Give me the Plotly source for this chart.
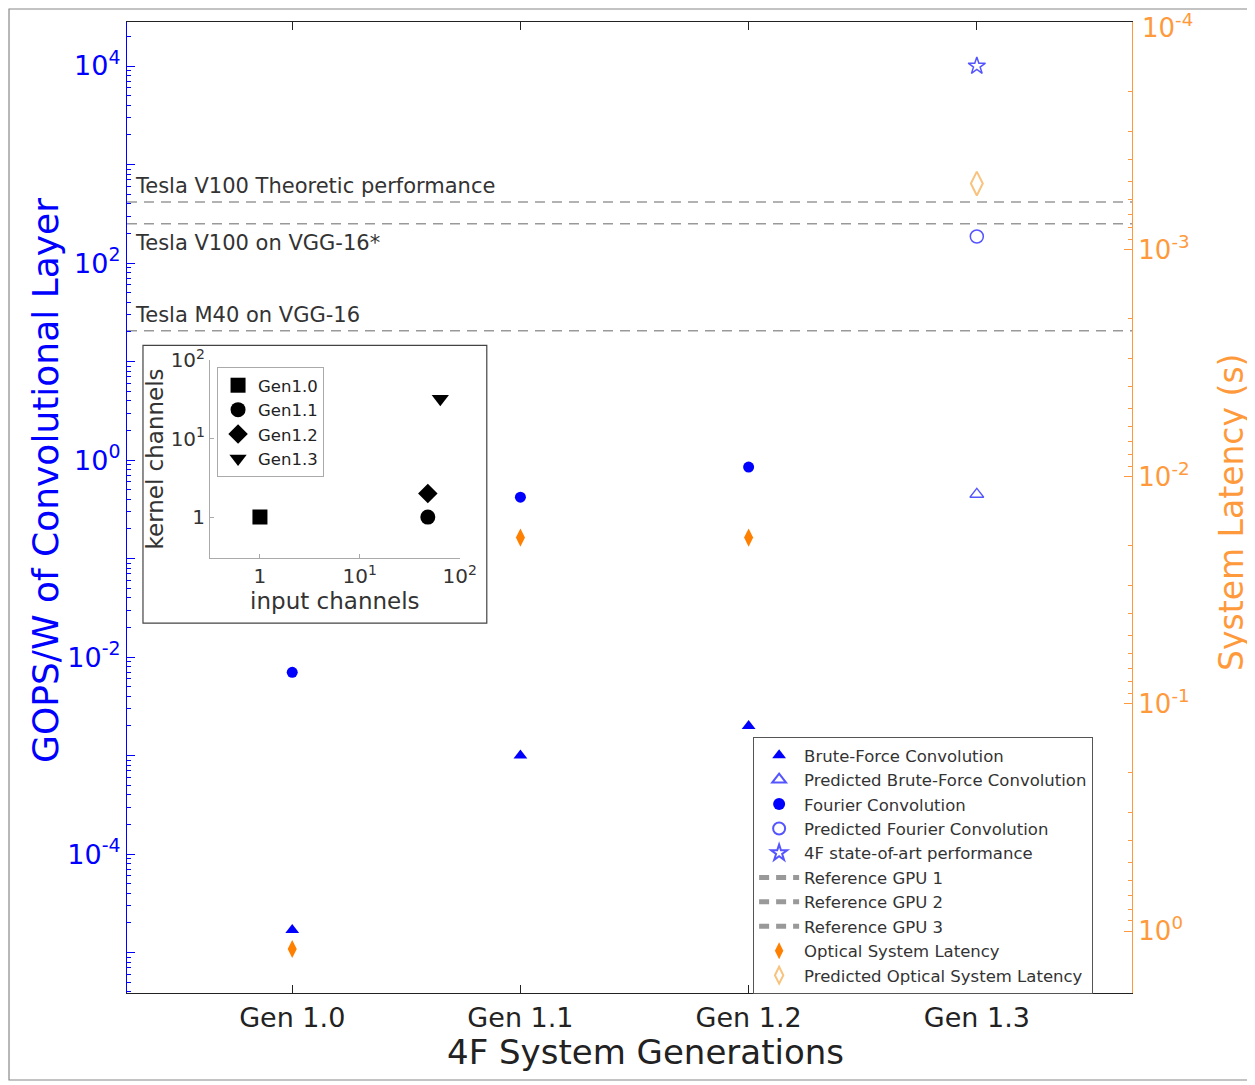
import plotly.graph_objects as go
import numpy as np

# ---------------- data ----------------
generations = ["Gen 1.0", "Gen 1.1", "Gen 1.2", "Gen 1.3"]
gen_pos = [1, 2, 3, 4]

brute_force_x = [1, 2, 3]
brute_force = [1.7e-5, 1.0e-3, 2.0e-3]
pred_brute_force_x = [4]
pred_brute_force = [0.45]

fourier_x = [1, 2, 3]
fourier = [7.0e-3, 0.42, 0.85]
pred_fourier_x = [4]
pred_fourier = [186]

state_of_art_x = [4]
state_of_art = [1.0e4]

gpu_names = ["Reference GPU 1", "Reference GPU 2", "Reference GPU 3"]
gpu_values = [417, 250, 20.5]
gpu_labels = ["Tesla V100 Theoretic performance", "Tesla V100 on VGG-16*", "Tesla M40 on VGG-16"]

latency_x = [1, 2, 3]
latency = [1.2, 0.0185, 0.0185]
pred_latency_x = [4]
pred_latency = [5.1e-4]

# inset data
inset_names = ["Gen1.0", "Gen1.1", "Gen1.2", "Gen1.3"]
input_channels = [1, 48, 48, 64]
kernel_channels = [1, 1, 2, 32]
inset_symbols = ["square", "circle", "diamond", "triangle-down"]

# ---------------- style ----------------
BLUE = "#0000FF"
LBLUE = "#5555FF"
ORANGE = "#FF8000"
ORANGE_AX = "#FF9A3C"
LORANGE = "#F8C37E"
GRAY = "#999999"
FONT = "DejaVu Sans, Verdana, sans-serif"

X_RANGE = [0.276, 4.68]
LEFT_RANGE = [-5.41, 4.447]
RIGHT_RANGE = [0.273, -4.004]

fig = go.Figure()

fig.add_trace(go.Scatter(x=brute_force_x, y=brute_force, mode="markers", name="Brute-Force Convolution",
                         marker=dict(symbol="triangle-up", color=BLUE, size=12), legend="legend"))
fig.add_trace(go.Scatter(x=pred_brute_force_x, y=pred_brute_force, mode="markers", name="Predicted Brute-Force Convolution",
                         marker=dict(symbol="triangle-up-open", color=LBLUE, size=12, line=dict(width=1.3)), legend="legend"))
fig.add_trace(go.Scatter(x=fourier_x, y=fourier, mode="markers", name="Fourier Convolution",
                         marker=dict(symbol="circle", color=BLUE, size=11), legend="legend"))
fig.add_trace(go.Scatter(x=pred_fourier_x, y=pred_fourier, mode="markers", name="Predicted Fourier Convolution",
                         marker=dict(symbol="circle-open", color=LBLUE, size=13, line=dict(width=1.5)), legend="legend"))
fig.add_trace(go.Scatter(x=state_of_art_x, y=state_of_art, mode="markers", name="4F state-of-art performance",
                         marker=dict(symbol="star-open", color=LBLUE, size=13, line=dict(width=1.5)), legend="legend"))
for nm, v in zip(gpu_names, gpu_values):
    fig.add_trace(go.Scatter(x=X_RANGE, y=[v, v], mode="lines", name=nm,
                             line=dict(color=GRAY, width=1.5, dash="10px,7px"), legend="legend"))
fig.add_trace(go.Scatter(x=latency_x, y=latency, mode="markers", name="Optical System Latency", yaxis="y2",
                         marker=dict(symbol="diamond-tall", color=ORANGE, size=13), legend="legend"))
fig.add_trace(go.Scatter(x=pred_latency_x, y=pred_latency, mode="markers", name="Predicted Optical System Latency", yaxis="y2",
                         marker=dict(symbol="diamond-tall-open", color=LORANGE, size=17, line=dict(width=2)), legend="legend"))

# inset traces
for nm, xi, yi, sym in zip(inset_names, input_channels, kernel_channels, inset_symbols):
    fig.add_trace(go.Scatter(x=[xi], y=[yi], mode="markers", name=nm, xaxis="x2", yaxis="y3",
                             marker=dict(symbol=sym, color="black", size=15), legend="legend2"))

# GPU label annotations
anchors = ["bottom", "top", "bottom"]
shifts = [2, -5, 2]
for lab, v, an, sh in zip(gpu_labels, gpu_values, anchors, shifts):
    fig.add_annotation(x=0.006, xref="x domain", y=np.log10(v), yref="y", text=lab, showarrow=False,
                       xanchor="left", yanchor=an, yshift=sh, font=dict(family=FONT, size=21, color="#333333"))

# axis titles as annotations (placed like the reference)
fig.add_annotation(x=-0.0816, y=0.5283, xref="paper", yref="paper", text="GOPS/W of Convolutional Layer",
                   textangle=-90, showarrow=False, xanchor="center", yanchor="middle",
                   font=dict(family=FONT, size=36, color=BLUE))
fig.add_annotation(x=1.0995, y=0.4954, xref="paper", yref="paper", text="System Latency (s)",
                   textangle=-90, showarrow=False, xanchor="center", yanchor="middle",
                   font=dict(family=FONT, size=33, color=ORANGE_AX))
fig.add_annotation(x=0.5164, y=-0.0607, xref="paper", yref="paper", text="4F System Generations",
                   showarrow=False, xanchor="center", yanchor="middle",
                   font=dict(family=FONT, size=34, color="#222222"))

left_ticks = [10.0 ** k for k in range(-5, 5)]
left_text = [("10<sup>%d</sup>" % k if k % 2 == 0 else "") for k in range(-5, 5)]
right_ticks = [10.0 ** k for k in range(-4, 1)]
right_text = [("10<sup>%d</sup>" % k if k > -4 else "") for k in range(-4, 1)]

# top right-axis label (kept inside the page, like the reference)
fig.add_annotation(x=1.0, xref="paper", xshift=8, y=RIGHT_RANGE[1], yref="y2", yshift=-4,
                   text="10<sup>-4</sup>", showarrow=False, xanchor="left", yanchor="middle",
                   font=dict(family=FONT, size=26, color=ORANGE_AX))

fig.update_layout(
    width=1247, height=1077,
    margin=dict(l=119, r=123, t=14, b=92, autoexpand=False),
    plot_bgcolor="white", paper_bgcolor="white",
    font=dict(family=FONT, color="#222222"),
    xaxis=dict(range=X_RANGE, tickvals=gen_pos, ticktext=generations, showgrid=False, zeroline=False,
               automargin=False,
               showline=True, linecolor="#222222", linewidth=1.2, mirror="ticks", ticks="inside", ticklen=8,
               tickcolor="#222222",
               tickfont=dict(family=FONT, size=27, color="#222222")),
    yaxis=dict(type="log", range=LEFT_RANGE, tickvals=left_ticks, ticktext=left_text, showgrid=False, zeroline=False,
               automargin=False, ticklabeloverflow="allow",
               showline=True, linecolor=BLUE, linewidth=1.2, ticks="inside", ticklen=8, tickcolor=BLUE,
               minor=dict(ticks="inside", ticklen=4, tickcolor=BLUE, dtick="D1", showgrid=False),
               tickfont=dict(family=FONT, size=27, color=BLUE)),
    yaxis2=dict(type="log", range=RIGHT_RANGE, overlaying="y", side="right", tickvals=right_ticks, ticktext=right_text,
                automargin=False, ticklabeloverflow="allow",
                showgrid=False, zeroline=False, showline=True, linecolor=ORANGE_AX, linewidth=1.2,
                ticks="inside", ticklen=8, tickcolor=ORANGE_AX,
                minor=dict(ticks="inside", ticklen=4, tickcolor=ORANGE_AX, dtick="D1", showgrid=False),
                tickfont=dict(family=FONT, size=26, color=ORANGE_AX)),
    xaxis2=dict(type="log", domain=[0.0826, 0.331], anchor="y3", range=[-0.5, 2.0], automargin=False,
                tickvals=[1, 10, 100], ticktext=["1", "10<sup>1</sup>", "10<sup>2</sup>"],
                showgrid=False, zeroline=False, showline=True, linecolor="#aaaaaa", linewidth=1,
                ticks="inside", ticklen=4, tickcolor="#aaaaaa",
                tickfont=dict(family=FONT, size=20, color="#333333"),
                title=dict(text="input channels", font=dict(family=FONT, size=23, color="#333333"), standoff=2)),
    yaxis3=dict(type="log", domain=[0.448, 0.652], anchor="x2", range=[-0.52, 2.0], automargin=False,
                tickvals=[1, 10, 100], ticktext=["1", "10<sup>1</sup>", "10<sup>2</sup>"],
                showgrid=False, zeroline=False, showline=True, linecolor="#aaaaaa", linewidth=1,
                ticks="inside", ticklen=4, tickcolor="#aaaaaa",
                tickfont=dict(family=FONT, size=20, color="#333333"),
                title=dict(text="kernel channels", font=dict(family=FONT, size=23, color="#333333"), standoff=0)),
    legend=dict(x=0.623, y=0.2637, xanchor="left", yanchor="top", bgcolor="white",
                bordercolor="#555555", borderwidth=1, font=dict(family=FONT, size=16.5, color="#333333"),
                itemsizing="constant", itemwidth=40, tracegroupgap=0),
    legend2=dict(x=0.0896, y=0.6447, xanchor="left", yanchor="top", bgcolor="white",
                 bordercolor="#aaaaaa", borderwidth=1, font=dict(family=FONT, size=16.5, color="#222222"),
                 itemwidth=30),
    showlegend=True,
)

# inset frame and outer figure frame
fig.add_shape(type="rect", xref="paper", yref="paper", x0=0.0159, x1=0.358, y0=0.381, y1=0.667,
              line=dict(color="#444444", width=1.2), fillcolor="white", layer="below")
fig.add_shape(type="rect", xref="paper", yref="paper", x0=-0.1174, x1=1.1174, y0=-0.0896, y1=1.0134,
              line=dict(color="#888888", width=1.2), fillcolor="rgba(0,0,0,0)", layer="below")

fig.write_html("out.html")
